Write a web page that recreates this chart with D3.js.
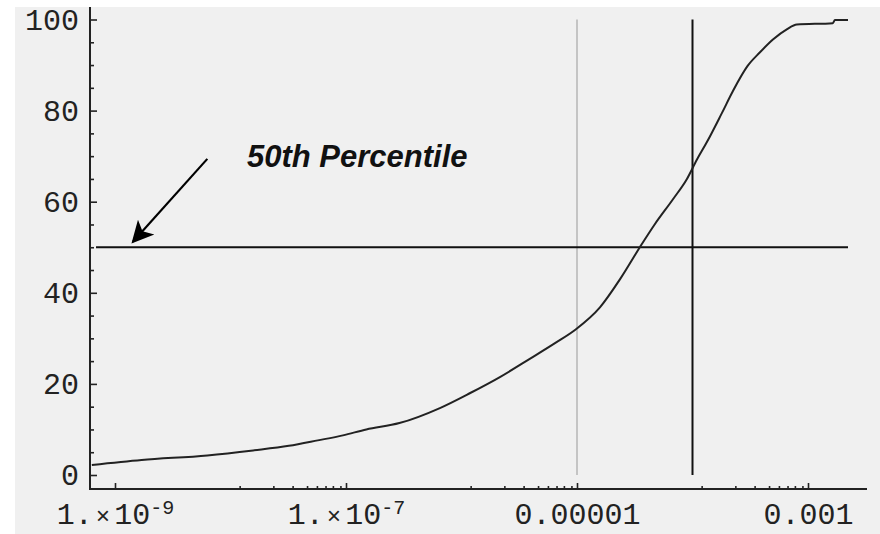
<!DOCTYPE html>
<meta charset="utf-8">
<style>
body { margin: 0; background: #fff; }
svg { display: block; }
.tick text { font-family: "Liberation Mono", monospace; font-size: 30px; fill: #222; }
.note { font-family: "Liberation Sans", Arial, sans-serif; font-size: 31px; font-weight: bold; font-style: italic; fill: #111; }
</style>
<body>
<svg width="880" height="534"></svg>
<script src="https://cdn.jsdelivr.net/npm/d3@7"></script>
<script>

// cumulative curve
var cdfX = [6.3e-10, 1.7e-9, 6.3e-9, 1.57e-8, 3.2e-8, 5.7e-8, 9.4e-8, 1.5e-7, 2.9e-7, 6.5e-7,
            1.19e-6, 2.15e-6, 3.9e-6, 6.5e-6, 9.8e-6, 1.58e-5, 2.36e-5, 3.5e-5, 4.7e-5, 6.8e-5,
            8.95e-5, 1.09e-4, 1.34e-4, 1.8e-4, 2.24e-4, 3.0e-4, 3.84e-4, 4.97e-4, 6.6e-4, 8.0e-4,
            1.64e-3, 1.71e-3, 2.22e-3];
var cdfY = [2.2, 3.3, 4.3, 5.4, 6.4, 7.6, 8.7, 10.0, 11.4, 14.7,
            18.0, 21.5, 25.5, 29.0, 32.0, 36.8, 43.0, 50.0, 55.0, 60.6,
            65.0, 69.2, 73.2, 79.5, 84.3, 89.8, 92.8, 95.6, 97.9, 98.9,
            99.2, 99.9, 99.9];

var yMajor = [0, 20, 40, 60, 80, 100];
var yMinor = [5, 10, 15, 25, 30, 35, 45, 50, 55, 65, 70, 75, 85, 90, 95];
var xMajor = [1e-9, 1e-7, 1e-5, 1e-3];
var xLabels = ["1.×10^-9", "1.×10^-7", "0.00001", "0.001"];
var minorDecades = [1e-8, 1e-6, 1e-4];
var minorSteps = [1.2, 2.35, 3.45, 4.6, 5.6, 6.65, 7.7, 8.95];

var percentile = 50;
var lineSpan = [6.85e-10, 2.22e-3];
var grayMark = 1e-5, blackMark = 1e-4;
var noteText = "50th Percentile";
var noteAt = [1.39e-8, 67.6];
var arrowFrom = [6.3e-9, 69.4], arrowTo = [1.43e-9, 51.2];

var svg = d3.select("svg");

var x = d3.scaleLog().domain([1e-9, 1e-3]).range([115, 808]);
var y = d3.scaleLinear().domain([0, 100]).range([475, 19.5]);

var axisX = 90, axisY = 489;

svg.append("rect")
    .attr("x", 15).attr("y", 7)
    .attr("width", 865).attr("height", 527)
    .attr("fill", "#f0f0f0");

var g = svg.append("g");

// y axis
var yAx = g.append("g").attr("transform", "translate(" + axisX + ",0)");
yAx.call(d3.axisLeft(y).tickValues(yMajor).tickSize(-7).tickPadding(11));
yAx.select(".domain").remove();
yAx.append("g").call(d3.axisLeft(y).tickValues(yMinor).tickSize(-4).tickFormat(""))
   .select(".domain").remove();

// x axis
var minorX = [];
minorDecades.forEach(function(d) {
  minorSteps.forEach(function(k) { minorX.push(d * k); });
});

var xAx = g.append("g").attr("transform", "translate(0," + axisY + ")");
xAx.call(d3.axisBottom(x).tickValues(xMajor).tickSize(-6).tickPadding(14).tickFormat(""));
xAx.select(".domain").remove();

xAx.selectAll(".tick text").each(function(d) {
  var parts = xLabels[xMajor.indexOf(d)].split("^");
  var t = d3.select(this);
  if (!parts[1]) { t.text(parts[0]); return; }
  var m = parts[0].split("×");
  t.append("tspan").text(m[0]);
  t.append("tspan").attr("dx", 3).style("font-size", "24px").text("×");
  t.append("tspan").attr("dx", 4).text(m[1]);
  t.append("tspan").attr("dy", "-0.5em").style("font-size", "20px").text(parts[1]);
});

xAx.append("g").call(d3.axisBottom(x).tickValues(minorX).tickSize(-3).tickFormat(""))
   .select(".domain").remove();

g.selectAll(".tick line").attr("stroke", "#222").attr("stroke-width", 1.6);

// axis lines
g.append("line").attr("x1", axisX).attr("x2", axisX).attr("y1", 7).attr("y2", axisY + 1)
    .attr("stroke", "#222").attr("stroke-width", 2);
g.append("line").attr("x1", axisX).attr("x2", 867).attr("y1", axisY).attr("y2", axisY)
    .attr("stroke", "#222").attr("stroke-width", 2);

// reference lines
g.append("line")
    .attr("x1", x(grayMark)).attr("x2", x(grayMark)).attr("y1", y(100)).attr("y2", y(0))
    .attr("stroke", "#c4c4c4").attr("stroke-width", 2);
g.append("line")
    .attr("x1", x(blackMark)).attr("x2", x(blackMark)).attr("y1", y(100)).attr("y2", y(0))
    .attr("stroke", "#111").attr("stroke-width", 2);
g.append("line")
    .attr("x1", x(lineSpan[0])).attr("x2", x(lineSpan[1]))
    .attr("y1", y(percentile)).attr("y2", y(percentile))
    .attr("stroke", "#111").attr("stroke-width", 2);

// curve
var pts = cdfX.map(function(v, i) { return [v, cdfY[i]]; });
g.append("path")
    .datum(pts)
    .attr("fill", "none")
    .attr("stroke", "#222")
    .attr("stroke-width", 2)
    .attr("d", d3.line().curve(d3.curveMonotoneX)
        .x(function(d) { return x(d[0]); }).y(function(d) { return y(d[1]); }));

// annotation
svg.append("defs").append("marker")
    .attr("id", "head")
    .attr("viewBox", "0 0 10 10")
    .attr("refX", 9).attr("refY", 5)
    .attr("markerWidth", 11).attr("markerHeight", 10)
    .attr("markerUnits", "strokeWidth")
    .attr("orient", "auto")
  .append("path")
    .attr("d", "M0,0L10,5L0,10L2.5,5Z")
    .attr("fill", "#000");

g.append("line")
    .attr("x1", x(arrowFrom[0])).attr("y1", y(arrowFrom[1]))
    .attr("x2", x(arrowTo[0])).attr("y2", y(arrowTo[1]))
    .attr("stroke", "#000").attr("stroke-width", 2.2)
    .attr("marker-end", "url(#head)");

g.append("text")
    .attr("class", "note")
    .attr("x", x(noteAt[0])).attr("y", y(noteAt[1]))
    .text(noteText);

</script>
</body>
